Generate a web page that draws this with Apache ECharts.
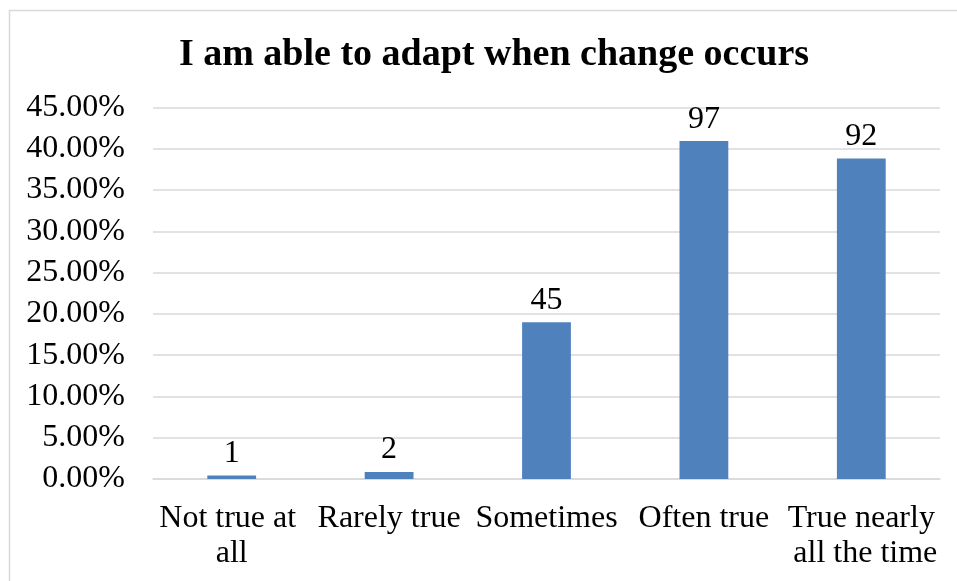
<!DOCTYPE html>
<html>
<head>
<meta charset="utf-8">
<script src="https://cdn.jsdelivr.net/npm/echarts@6/dist/echarts.min.js"></script>
<style>
  html, body { margin: 0; padding: 0; background: #fff; }
  #chart { width: 957px; height: 581px; }
</style>
</head>
<body>
<div id="chart"></div>
<script>
// answers and share of responses (%), counts shown above bars
var categories = ['Not true at all', 'Rarely true', 'Sometimes', 'Often true', 'True nearly all the time']
var percents = [0.42, 0.84, 18.99, 40.93, 38.82]
var counts = [1, 2, 45, 97, 92]

var serif = '"Liberation Serif", "Times New Roman", serif'

var chart = echarts.init(document.getElementById('chart'))
chart.setOption({
  backgroundColor: '#fff',
  animation: false,
  title: {
    text: 'I am able to adapt when change occurs',
    left: 489,
    textAlign: 'center',
    top: 31,
    textStyle: {
      fontFamily: serif,
      fontWeight: 'bold',
      fontSize: 38,
      color: '#000'
    }
  },
  graphic: [{
    type: 'rect',
    shape: { x: 9.5, y: 10.5, width: 960, height: 600 },
    style: { fill: 'none', stroke: '#d9d9d9', lineWidth: 1.5 },
    silent: true
  }],
  grid: {
    left: 153,
    right: 17,
    top: 107.5,
    bottom: 102
  },
  xAxis: {
    type: 'category',
    data: categories,
    axisTick: { show: false },
    axisLine: { lineStyle: { color: '#d9d9d9', width: 1.5 } },
    axisLabel: {
      interval: 0,
      margin: 22,
      width: 155,
      overflow: 'break',
      lineHeight: 35,
      fontFamily: serif,
      fontSize: 32,
      color: '#000'
    }
  },
  yAxis: {
    type: 'value',
    min: 0,
    max: 45,
    interval: 5,
    axisLine: { show: false },
    axisTick: { show: false },
    splitLine: { lineStyle: { color: '#d9d9d9', width: 1.5 } },
    axisLabel: {
      margin: 28,
      fontFamily: serif,
      fontSize: 32,
      color: '#000',
      formatter: function(v) {
        return v.toFixed(2) + '%'
      }
    }
  },
  series: [{
    type: 'bar',
    data: percents,
    barWidth: '31%',
    itemStyle: { color: '#4f81bd' },
    label: {
      show: true,
      position: 'top',
      distance: 6,
      fontFamily: serif,
      fontSize: 32,
      color: '#000',
      formatter: function(p) {
        return counts[p.dataIndex]
      }
    }
  }]
})
</script>
</body>
</html>
